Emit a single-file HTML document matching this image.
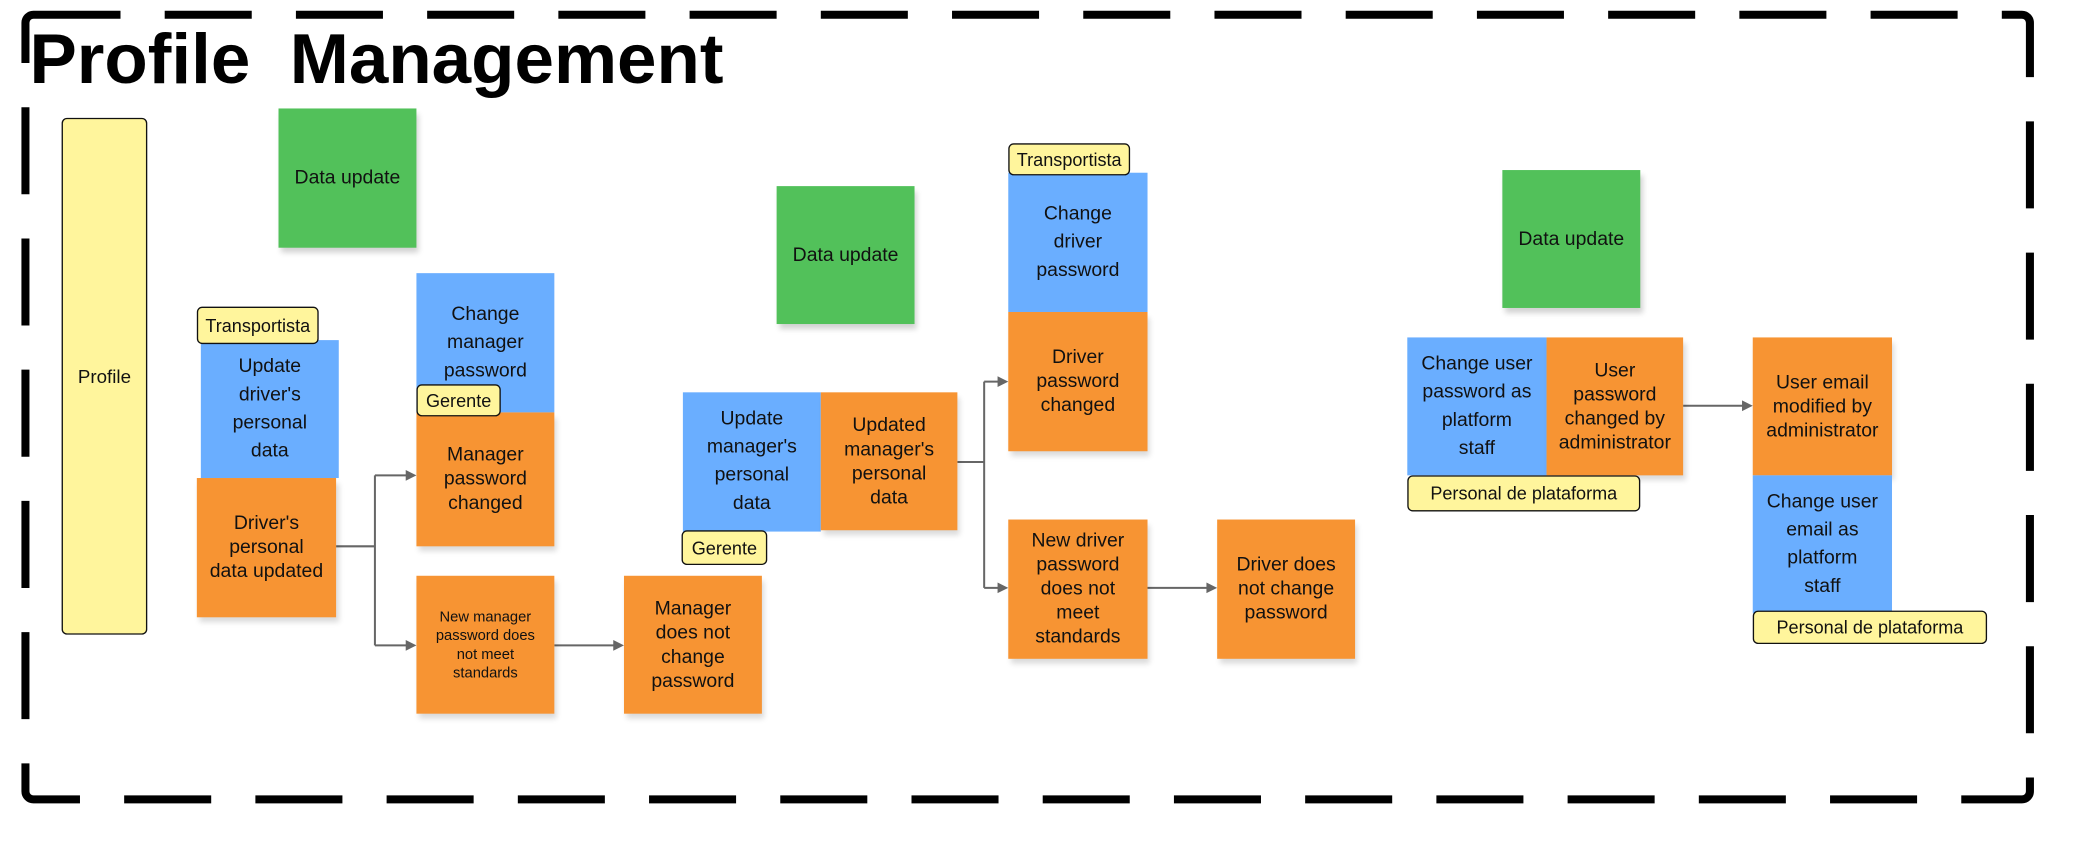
<!DOCTYPE html>
<html><head><meta charset="utf-8"><style>
html,body{margin:0;padding:0;background:#fff;}
body{width:2096px;height:856px;overflow:hidden;position:relative;}
#w{position:absolute;left:0;top:0;width:1566px;height:640px;transform:scale(1.339);transform-origin:0 0;font-family:"Liberation Sans",sans-serif;}
.s{position:absolute;display:flex;align-items:center;justify-content:center;text-align:center;font-size:14.5px;color:#111;box-sizing:border-box;padding:2px;white-space:nowrap;}
.g{background:#52C15A;box-shadow:2px 4px 4px rgba(0,0,0,.18);}
.b{background:#6AAEFF;line-height:21px;}
.o{background:#F79433;line-height:18px;box-shadow:2px 4px 4px rgba(0,0,0,.15);}
.t{position:absolute;background:#FFF59C;border:1.5px solid #111;border-radius:4px;font-size:13.5px;box-sizing:border-box;display:flex;align-items:center;justify-content:center;color:#111;white-space:nowrap;z-index:3;}
h1{position:absolute;left:22px;top:14px;margin:0;font-size:53px;font-weight:bold;letter-spacing:0;white-space:pre;}
svg{position:absolute;left:0;top:0;}
</style></head><body><div id="w">
<svg width="1566" height="640">
<rect x="19" y="11" width="1497" height="586" rx="6" fill="none" stroke="#000" stroke-width="6" stroke-dasharray="65 33"/>
<g stroke="#666" stroke-width="1.5" fill="none">
<path d="M251 408H280M280 355V482M280 355H305M280 482H305M414 482H460"/>
<path d="M715 345H735M735 285V439M735 285H747M735 439H747M857 439H903"/>
<path d="M1257 303H1303"/>
</g>
<g fill="#666">
<path d="M311 355l-8-4v8z"/><path d="M311 482l-8-4v8z"/><path d="M466 482l-8-4v8z"/>
<path d="M753 285l-8-4v8z"/><path d="M753 439l-8-4v8z"/><path d="M909 439l-8-4v8z"/>
<path d="M1309 303l-8-4v8z"/>
</g>
</svg>
<h1>Profile  Management</h1>
<div class="s" style="left:46px;top:88px;width:64px;height:386px;background:#FFF59C;border:1.5px solid #111;border-radius:4px;font-size:14px;">Profile</div>

<div class="s g" style="left:208px;top:81px;width:103px;height:104px;">Data update</div>
<div class="t" style="left:147px;top:229px;width:91px;height:28px;">Transportista</div>
<div class="s b" style="left:150px;top:254px;width:103px;height:103px;">Update<br>driver's<br>personal<br>data</div>
<div class="s o" style="left:147px;top:357px;width:104px;height:104px;">Driver's<br>personal<br>data updated</div>
<div class="s b" style="left:311px;top:204px;width:103px;height:104px;">Change<br>manager<br>password</div>
<div class="t" style="left:311px;top:287px;width:63px;height:24px;">Gerente</div>
<div class="s o" style="left:311px;top:308px;width:103px;height:100px;">Manager<br>password<br>changed</div>
<div class="s o" style="left:311px;top:430px;width:103px;height:103px;font-size:11px;line-height:14px;">New manager<br>password does<br>not meet<br>standards</div>
<div class="s o" style="left:466px;top:430px;width:103px;height:103px;">Manager<br>does not<br>change<br>password</div>

<div class="s g" style="left:580px;top:139px;width:103px;height:103px;">Data update</div>
<div class="s b" style="left:510px;top:293px;width:103px;height:104px;">Update<br>manager's<br>personal<br>data</div>
<div class="s o" style="left:613px;top:293px;width:102px;height:103px;">Updated<br>manager's<br>personal<br>data</div>
<div class="t" style="left:509px;top:396px;width:64px;height:26px;">Gerente</div>
<div class="t" style="left:753px;top:107px;width:91px;height:24px;">Transportista</div>
<div class="s b" style="left:753px;top:129px;width:104px;height:104px;">Change<br>driver<br>password</div>
<div class="s o" style="left:753px;top:233px;width:104px;height:104px;">Driver<br>password<br>changed</div>
<div class="s o" style="left:753px;top:388px;width:104px;height:104px;">New driver<br>password<br>does not<br>meet<br>standards</div>
<div class="s o" style="left:909px;top:388px;width:103px;height:104px;">Driver does<br>not change<br>password</div>

<div class="s g" style="left:1122px;top:127px;width:103px;height:103px;">Data update</div>
<div class="s b" style="left:1051px;top:252px;width:104px;height:103px;">Change user<br>password as<br>platform<br>staff</div>
<div class="s o" style="left:1155px;top:252px;width:102px;height:103px;">User<br>password<br>changed by<br>administrator</div>
<div class="t" style="left:1051px;top:355px;width:174px;height:27px;">Personal de plataforma</div>
<div class="s o" style="left:1309px;top:252px;width:104px;height:103px;">User email<br>modified by<br>administrator</div>
<div class="s b" style="left:1309px;top:355px;width:104px;height:103px;">Change user<br>email as<br>platform<br>staff</div>
<div class="t" style="left:1309px;top:456px;width:175px;height:25px;">Personal de plataforma</div>
</div></body></html>
